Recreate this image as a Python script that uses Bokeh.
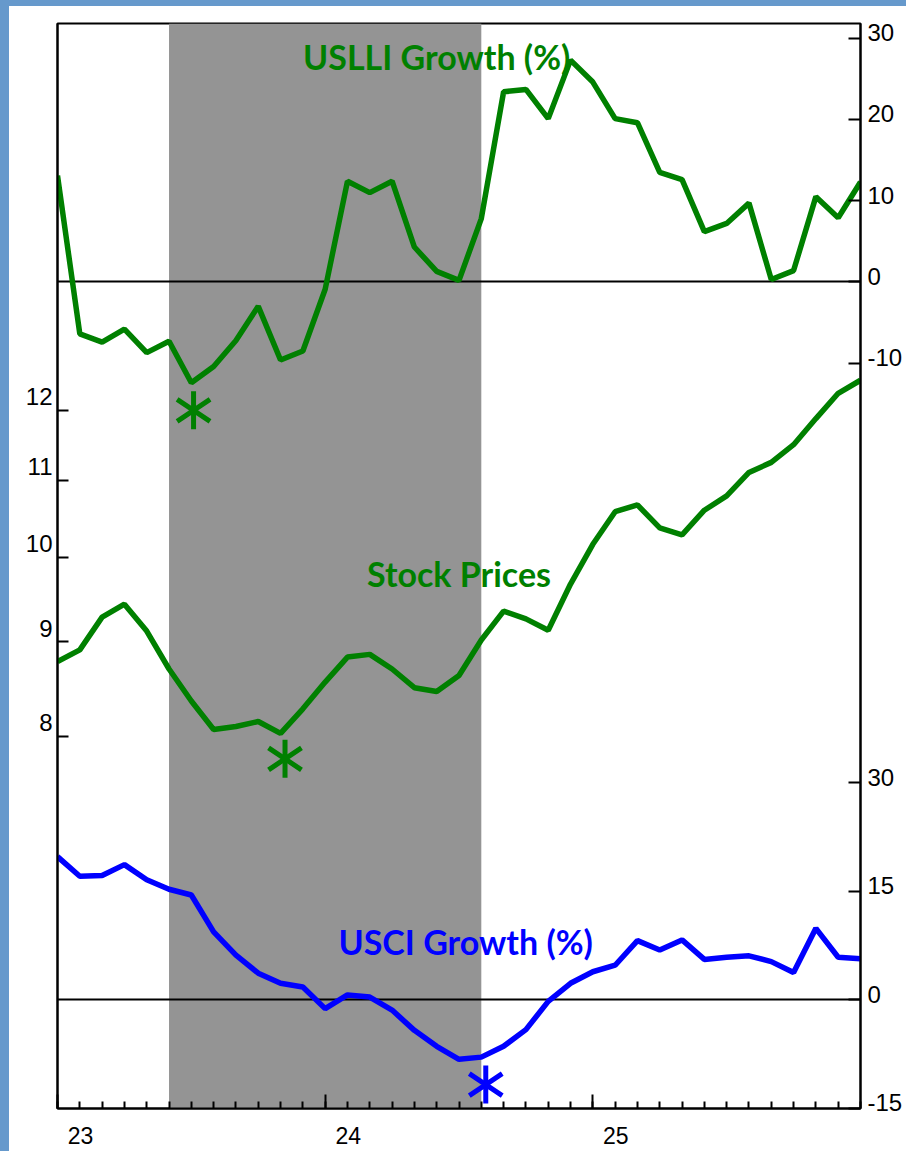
import math
from bokeh.plotting import figure
from bokeh.models import Range1d, LinearAxis, LogAxis, LogScale, FixedTicker, BoxAnnotation
from bokeh.core.properties import value
from bokeh.embed import file_html
from bokeh.resources import INLINE

# ---------------- data (monthly, Jan 2023 .. Jan 2026) ----------------
months = list(range(37))
year_tick_months = [0, 12, 24]
year_labels = ["23", "24", "25"]

uslli_growth = [13.1, -6.4, -7.4, -5.8, -8.7, -7.3, -12.4, -10.4, -7.2, -3.0,
                -9.6, -8.5, -0.9, 12.4, 11.0, 12.4, 4.3, 1.3, 0.2, 7.8,
                23.4, 23.7, 20.1, 27.3, 24.6, 20.1, 19.6, 13.5, 12.6, 6.2,
                7.2, 9.7, 0.3, 1.4, 10.5, 7.9, 12.3]
stock_prices = [8.78, 8.91, 9.28, 9.43, 9.12, 8.70, 8.36, 8.07, 8.10, 8.15,
                8.03, 8.28, 8.56, 8.83, 8.86, 8.70, 8.50, 8.46, 8.63, 9.02,
                9.35, 9.26, 9.13, 9.67, 10.16, 10.58, 10.67, 10.37, 10.28, 10.60,
                10.79, 11.11, 11.25, 11.50, 11.88, 12.26, 12.46]
usci_growth = [19.8, 17.1, 17.2, 18.7, 16.6, 15.3, 14.5, 9.4, 6.2, 3.7,
               2.3, 1.8, -1.2, 0.7, 0.4, -1.4, -4.2, -6.4, -8.2, -7.9,
               -6.4, -4.1, -0.2, 2.3, 3.9, 4.8, 8.2, 6.9, 8.3, 5.6,
               5.9, 6.1, 5.3, 3.8, 9.9, 5.9, 5.7]

# shaded period (months)
shade_start = 5
shade_end = 19

# trough markers (month, value in each series' units)
uslli_trough = (6.1, -15.8)
stock_trough = (10.2, 7.78)
usci_trough = (19.2, -11.7)

uslli_ticks = [30, 20, 10, 0, -10]
usci_ticks = [30, 15, 0, -15]
stock_ticks = [8, 9, 10, 11, 12]

# ---------------- scales ----------------
LLLI_RANGE = (-101.73, 31.81)
STOCK_RANGE = (5.036, 19.42)
USCI_RANGE = (-15.0, 134.94)

GREEN = "#008000"
BLUE = "#0000ff"
SHADE = "#949494"
TICK_FONT = "Liberation Sans"
TITLE_FONT = "Lato"

p = figure(frame_width=803, frame_height=1085,
           x_range=Range1d(0, 36), y_range=Range1d(*LLLI_RANGE),
           output_backend="svg", toolbar_location=None,
           x_axis_location=None, y_axis_location=None,
           min_border_left=57, min_border_right=46,
           min_border_top=23, min_border_bottom=43,
           background_fill_color="white", border_fill_color=None,
           outline_line_color="black", outline_line_width=2)
p.extra_y_ranges = {"stock": Range1d(*STOCK_RANGE), "usci": Range1d(*USCI_RANGE)}
p.extra_y_scales = {"stock": LogScale()}
for g in p.grid:
    g.visible = False
p.styles = {"background-color": "white", "box-shadow": "inset 9px 6px 0 0 #6699cc"}

# shaded band
p.add_layout(BoxAnnotation(left=shade_start, right=shade_end, fill_color=SHADE,
                           fill_alpha=1.0, line_color=None, level="underlay"))

# zero lines
p.hspan(y=[0], line_color="black", line_width=2)
p.hspan(y=[0], y_range_name="usci", line_color="black", line_width=2)

# series
p.line(months, uslli_growth, line_color=GREEN, line_width=5.5)
p.line(months, stock_prices, y_range_name="stock", line_color=GREEN, line_width=5.5)
p.line(months, usci_growth, y_range_name="usci", line_color=BLUE, line_width=5.5)

# trough asterisks (two opposite "y" markers = 6-armed asterisk)
for (tx, ty), rng, col in [(uslli_trough, "default", GREEN),
                           (stock_trough, "stock", GREEN),
                           (usci_trough, "usci", BLUE)]:
    for ang in (0.0, math.pi):
        p.scatter([tx], [ty], y_range_name=rng, marker="y", size=38, angle=ang,
                  line_color=col, line_width=5)

# titles
title_kw = dict(text_font=value(TITLE_FONT), text_font_size="34px",
                text_font_style="bold", text_align="center", text_baseline="middle")
p.text(x=[17.0], y=[27.7], text=["USLLI Growth (%)"], text_color=GREEN, **title_kw)
p.text(x=[18.0], y=[9.80], text=["Stock Prices"], y_range_name="stock",
       text_color=GREEN, **title_kw)
p.text(x=[18.3], y=[8.1], text=["USCI Growth (%)"], y_range_name="usci",
       text_color=BLUE, **title_kw)

# ---------------- axes ----------------
L0, L1 = LLLI_RANGE
U0, U1 = USCI_RANGE
def usci_to_llli(u):
    return L0 + (u - U0) * (L1 - L0) / (U1 - U0)

right_ticks = [float(t) for t in uslli_ticks] + [usci_to_llli(u) for u in usci_ticks]
right_labels = [f"{t}\n" for t in uslli_ticks] + [f"{u}\n" for u in usci_ticks]
ra = LinearAxis(ticker=FixedTicker(ticks=right_ticks, minor_ticks=[]),
                major_label_overrides=dict(zip(right_ticks, right_labels)),
                major_tick_in=12, major_tick_out=0, minor_tick_in=0, minor_tick_out=0,
                axis_line_width=2, major_tick_line_width=2,
                major_label_standoff=7,
                major_label_text_font=TICK_FONT, major_label_text_font_size="24px",
                major_label_text_line_height=0.42,
                major_label_text_color="black")
p.add_layout(ra, "right")

la = LogAxis(y_range_name="stock",
             ticker=FixedTicker(ticks=stock_ticks, minor_ticks=[]),
             major_label_overrides={t: f"{t}\n" for t in stock_ticks},
             major_tick_in=11, major_tick_out=0, minor_tick_in=0, minor_tick_out=0,
             axis_line_width=2, major_tick_line_width=2,
             major_label_standoff=5,
             major_label_text_font=TICK_FONT, major_label_text_font_size="24px",
             major_label_text_line_height=1.0,
             major_label_text_color="black")
p.add_layout(la, "left")

# year labels sit one month to the right of the year ticks (em-space padding)
EM = "\u2003"
xa = LinearAxis(ticker=FixedTicker(ticks=year_tick_months, minor_ticks=months),
                major_label_overrides={m: EM + EM + lab for m, lab in zip(year_tick_months, year_labels)},
                major_tick_in=14, major_tick_out=0, minor_tick_in=7, minor_tick_out=0,
                major_tick_line_width=2, minor_tick_line_width=2,
                axis_line_width=2, major_label_standoff=14,
                major_label_text_font=TICK_FONT, major_label_text_font_size="23px",
                major_label_text_color="black")
p.add_layout(xa, "below")

open("out.html", "w").write(file_html(p, INLINE))
